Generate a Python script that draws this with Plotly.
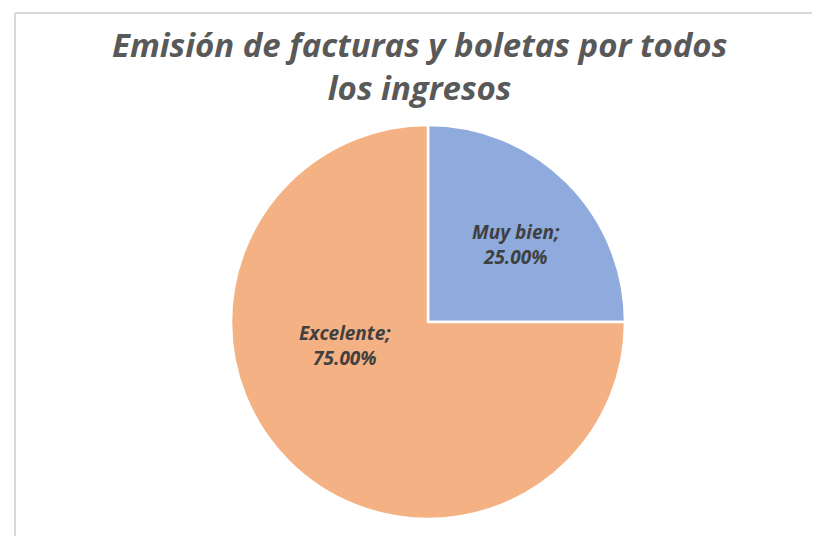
import plotly.graph_objects as go

categories = ["Muy bien", "Excelente"]
values = [25.0, 75.0]
colors = ["#8FAADC", "#F4B183"]
title_text = "Emisión de facturas y boletas por todos<br>los ingresos"

W, H = 820, 536
cx, cy, r = 420, 314, 197

fig = go.Figure(go.Pie(
    labels=categories,
    values=values,
    sort=False,
    direction="clockwise",
    rotation=0,
    marker=dict(colors=colors, line=dict(color="white", width=2.5)),
    textinfo="none",
    hoverinfo="label+percent",
    showlegend=False,
    domain=dict(x=[(cx - r) / W, (cx + r) / W], y=[1 - (cy + r) / H, 1 - (cy - r) / H]),
))

# label positions (pixel centres of the two data labels)
label_pos = [(508, 236), (337, 337)]
total = sum(values)
for cat, val, (px, py) in zip(categories, values, label_pos):
    fig.add_annotation(
        x=px / W, y=1 - py / H, xref="paper", yref="paper",
        text=f"{cat};<br>{val / total * 100:.2f}%",
        showarrow=False, align="center",
        font=dict(family="Open Sans", size=19, color="#404040", style="italic", weight="bold"),
    )

# chart title
fig.add_annotation(
    x=411 / W, y=1 - 58 / H, xref="paper", yref="paper",
    xanchor="center", yanchor="middle", align="center",
    text=title_text, showarrow=False,
    font=dict(family="Open Sans", size=33, color="#595959", style="italic", weight="bold"),
)

fig.update_layout(
    width=W, height=H,
    margin=dict(l=0, r=0, t=0, b=0),
    paper_bgcolor="white", plot_bgcolor="white",
    shapes=[
        dict(type="line", xref="paper", yref="paper", x0=7 / W, x1=1, y0=1 - 5 / H, y1=1 - 5 / H,
             line=dict(color="#D9D9D9", width=2)),
        dict(type="line", xref="paper", yref="paper", x0=7 / W, x1=7 / W, y0=0, y1=1 - 5 / H,
             line=dict(color="#D9D9D9", width=2)),
    ],
)

fig.write_html("out.html")
